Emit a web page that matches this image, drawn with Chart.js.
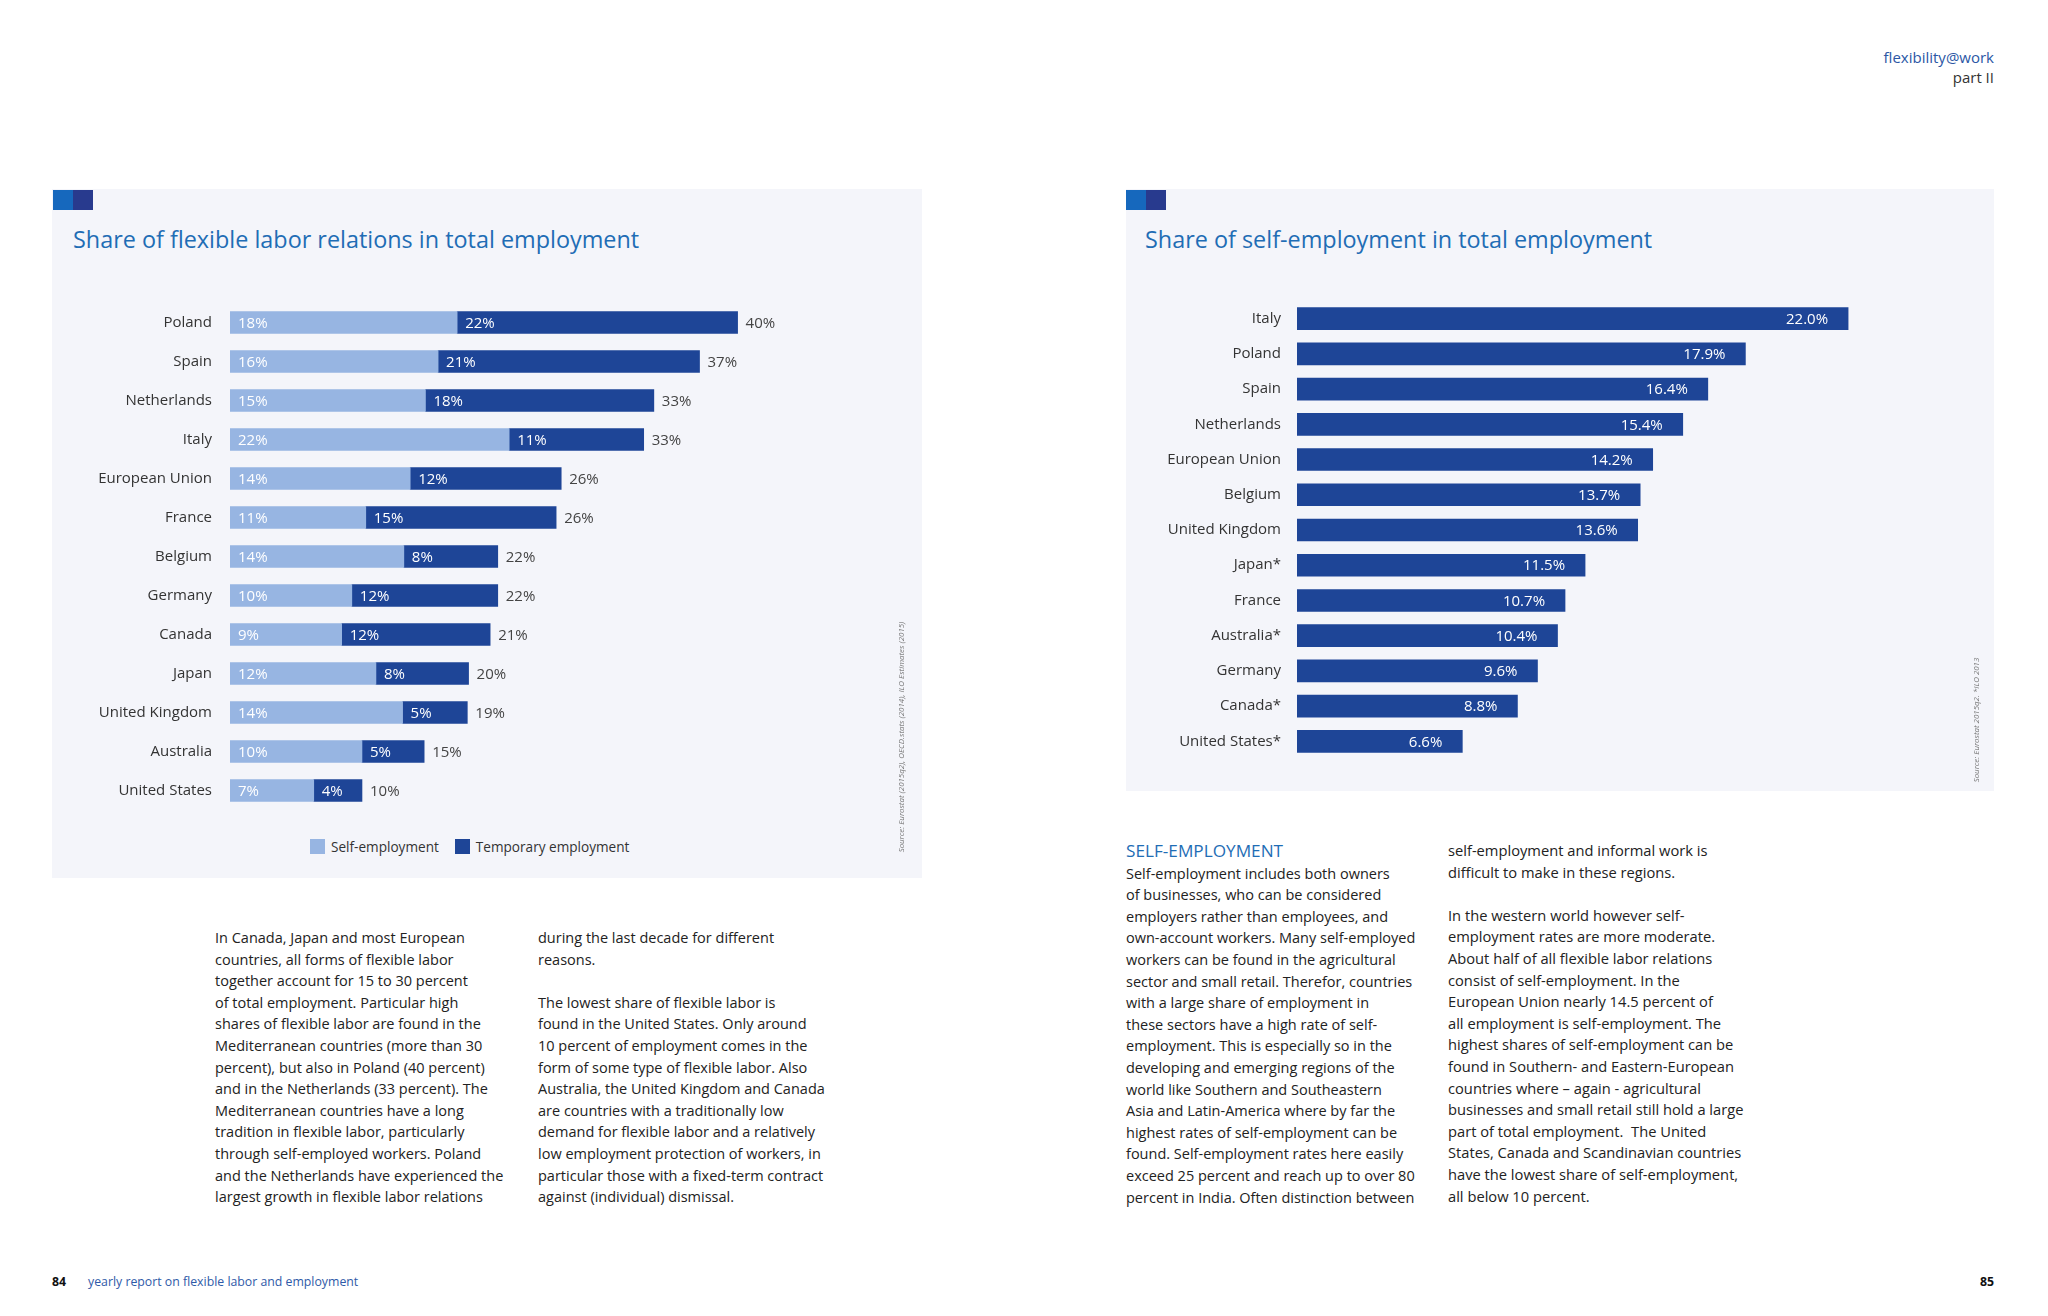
<!DOCTYPE html>
<html>
<head>
<meta charset="utf-8">
<script src="https://cdn.jsdelivr.net/npm/chart.js@4.4.1/dist/chart.umd.min.js"></script>
<style>
  html, body { margin: 0; padding: 0; background: #fff; }
  body { width: 2048px; height: 1316px; position: relative; overflow: hidden; font-family: 'Open Sans', 'Noto Sans', sans-serif; color: #222; }
  .abs { position: absolute; }
  .panel { background: #f4f5fa; }
  .sq { width: 20px; height: 20px; }
  .title { font-size: 23.4px; color: #1f6db5; white-space: nowrap; }
  .body-text { font-size: 14.5px; line-height: 21.6px; white-space: nowrap; color: #222; }
  .legend { font-size: 13.6px; color: #333; display: flex; align-items: center; white-space: nowrap; }
  .legend i { display: inline-block; width: 15px; height: 15px; margin-right: 6px; }
  .source { font-size: 7.9px; line-height: 12px; font-style: italic; color: #777; white-space: nowrap; transform-origin: center; text-align: center; }
</style>
</head>
<body>

<!-- page header -->
<div class="abs" style="right:54px; top:47px; font-size:15px; color:#2b57a5; text-align:right;">flexibility@work</div>
<div class="abs" style="right:54px; top:67px; font-size:15px; color:#333; text-align:right;">part II</div>

<!-- left panel -->
<div class="abs panel" style="left:52px; top:189px; width:870px; height:689px;"></div>
<div class="abs sq" style="left:53px; top:190px; background:#1668bd;"></div>
<div class="abs sq" style="left:73px; top:190px; background:#283a8e;"></div>
<div class="abs title" style="left:73px; top:223px;">Share of flexible labor relations in total employment</div>
<canvas id="flexChart" class="abs" width="870" height="561" style="left:52px; top:276px;"></canvas>
<div class="abs legend" style="left:310px; top:837px;">
  <i style="background:#97b5e2;"></i><span style="margin-right:16px;">Self-employment</span>
  <i style="background:#1e4597;"></i><span>Temporary employment</span>
</div>
<div class="abs source" style="left:751px; top:731px; width:300px; transform:rotate(-90deg);">Source: Eurostat (2015q2), OECD.stats (2014), ILO Estimates (2015)</div>

<!-- right panel -->
<div class="abs panel" style="left:1126px; top:189px; width:868px; height:602px;"></div>
<div class="abs sq" style="left:1126px; top:190px; background:#1668bd;"></div>
<div class="abs sq" style="left:1146px; top:190px; background:#283a8e;"></div>
<div class="abs title" style="left:1145px; top:223px;">Share of self-employment in total employment</div>
<canvas id="selfChart" class="abs" width="868" height="508" style="left:1126px; top:276px;"></canvas>
<div class="abs source" style="left:1876px; top:714px; width:200px; transform:rotate(-90deg);">Source: Eurostat 2015q2. *ILO 2013</div>

<!-- left page text -->
<div class="abs body-text" style="left:215px; top:927px;">
In Canada, Japan and most European<br>
countries, all forms of flexible labor<br>
together account for 15 to 30 percent<br>
of total employment. Particular high<br>
shares of flexible labor are found in the<br>
Mediterranean countries (more than 30<br>
percent), but also in Poland (40 percent)<br>
and in the Netherlands (33 percent). The<br>
Mediterranean countries have a long<br>
tradition in flexible labor, particularly<br>
through self-employed workers. Poland<br>
and the Netherlands have experienced the<br>
largest growth in flexible labor relations
</div>
<div class="abs body-text" style="left:538px; top:927px;">
during the last decade for different<br>
reasons.<br>
<br>
The lowest share of flexible labor is<br>
found in the United States. Only around<br>
10 percent of employment comes in the<br>
form of some type of flexible labor. Also<br>
Australia, the United Kingdom and Canada<br>
are countries with a traditionally low<br>
demand for flexible labor and a relatively<br>
low employment protection of workers, in<br>
particular those with a fixed-term contract<br>
against (individual) dismissal.
</div>

<!-- right page text -->
<div class="abs body-text" style="left:1126px; top:840px;">
<span style="color:#1f6db5; font-size:17.2px;">SELF-EMPLOYMENT</span><br>
Self-employment includes both owners<br>
of businesses, who can be considered<br>
employers rather than employees, and<br>
own-account workers. Many self-employed<br>
workers can be found in the agricultural<br>
sector and small retail. Therefor, countries<br>
with a large share of employment in<br>
these sectors have a high rate of self-<br>
employment. This is especially so in the<br>
developing and emerging regions of the<br>
world like Southern and Southeastern<br>
Asia and Latin-America where by far the<br>
highest rates of self-employment can be<br>
found. Self-employment rates here easily<br>
exceed 25 percent and reach up to over 80<br>
percent in India. Often distinction between
</div>
<div class="abs body-text" style="left:1448px; top:840px; font-size:14.7px;">
self-employment and informal work is<br>
difficult to make in these regions.<br>
<br>
In the western world however self-<br>
employment rates are more moderate.<br>
About half of all flexible labor relations<br>
consist of self-employment. In the<br>
European Union nearly 14.5 percent of<br>
all employment is self-employment. The<br>
highest shares of self-employment can be<br>
found in Southern- and Eastern-European<br>
countries where – again - agricultural<br>
businesses and small retail still hold a large<br>
part of total employment.&nbsp; The United<br>
States, Canada and Scandinavian countries<br>
have the lowest share of self-employment,<br>
all below 10 percent.
</div>

<!-- footer -->
<div class="abs" style="left:52px; top:1273px; font-size:12.3px; font-weight:bold; color:#111;">84</div>
<div class="abs" style="left:88px; top:1273px; font-size:12.3px; color:#2f5aa8;">yearly report on flexible labor and employment</div>
<div class="abs" style="right:54px; top:1273px; font-size:12.3px; font-weight:bold; color:#111;">85</div>

<script>
// left chart: flexible labor
const flexCountries = ['Poland', 'Spain', 'Netherlands', 'Italy', 'European Union', 'France', 'Belgium',
    'Germany', 'Canada', 'Japan', 'United Kingdom', 'Australia', 'United States'];
const selfShare = [17.9, 16.4, 15.4, 22.0, 14.2, 10.7, 13.7, 9.6, 8.8, 11.5, 13.6, 10.4, 6.6];
const tempShare = [22.1, 20.6, 18.0, 10.6, 11.9, 15.0, 7.4, 11.5, 11.7, 7.3, 5.1, 4.9, 3.8];
const selfLabels = ['18%', '16%', '15%', '22%', '14%', '11%', '14%', '10%', '9%', '12%', '14%', '10%', '7%'];
const tempLabels = ['22%', '21%', '18%', '11%', '12%', '15%', '8%', '12%', '12%', '8%', '5%', '5%', '4%'];
const totalLabels = ['40%', '37%', '33%', '33%', '26%', '26%', '22%', '22%', '21%', '20%', '19%', '15%', '10%'];

// right chart: self-employment
const selfCountries = ['Italy', 'Poland', 'Spain', 'Netherlands', 'European Union', 'Belgium', 'United Kingdom',
    'Japan*', 'France', 'Australia*', 'Germany', 'Canada*', 'United States*'];
const selfEmployment = [22.0, 17.9, 16.4, 15.4, 14.2, 13.7, 13.6, 11.5, 10.7, 10.4, 9.6, 8.8, 6.6];

const LIGHT = '#97b5e2';
const DARK = '#1e4597';
const FONT = "'Open Sans', 'Noto Sans', sans-serif";

// draws the % labels on the stacked bars
const flexLabels = {
    id: 'flexLabels',
    afterDatasetsDraw(chart) {
        const ctx = chart.ctx;
        ctx.save();
        ctx.font = '15px ' + FONT;
        ctx.textBaseline = 'middle';
        ctx.textAlign = 'left';
        const segLabels = [selfLabels, tempLabels];
        chart.data.datasets.forEach((ds, di) => {
            chart.getDatasetMeta(di).data.forEach((bar, i) => {
                ctx.fillStyle = '#fff';
                ctx.fillText(segLabels[di][i], bar.base + 8, bar.y + 1);
                if (di === 1) {
                    ctx.fillStyle = '#444';
                    ctx.fillText(totalLabels[i], bar.x + 8, bar.y + 1);
                }
            });
        });
        ctx.restore();
    }
};

const selfValueLabels = {
    id: 'selfValueLabels',
    afterDatasetsDraw(chart) {
        const ctx = chart.ctx;
        ctx.save();
        ctx.font = '15px ' + FONT;
        ctx.textBaseline = 'middle';
        ctx.textAlign = 'right';
        ctx.fillStyle = '#fff';
        chart.getDatasetMeta(0).data.forEach((bar, i) => {
            ctx.fillText(selfEmployment[i].toFixed(1) + '%', bar.x - 20, bar.y + 1);
        });
        ctx.restore();
    }
};

// note: the y axis adds (label height / 2 + tick padding) above and below the bars,
// so the canvases are taller than the bar area
const flexChart = new Chart(document.getElementById('flexChart').getContext('2d'), {
    type: 'bar',
    data: {
        labels: flexCountries,
        datasets: [{
            label: 'Self-employment',
            data: selfShare,
            backgroundColor: LIGHT,
            barThickness: 22
        }, {
            label: 'Temporary employment',
            data: tempShare,
            backgroundColor: DARK,
            barThickness: 22
        }]
    },
    options: {
        indexAxis: 'y',
        responsive: false,
        animation: false,
        layout: { padding: { left: 0, right: 57.5, top: 0, bottom: 0 } },
        plugins: {
            legend: { display: false },
            tooltip: { enabled: false }
        },
        scales: {
            x: { stacked: true, display: false, min: 0, max: 50 },
            y: {
                stacked: true,
                grid: { display: false, drawTicks: false },
                border: { display: false },
                ticks: { color: '#333', padding: 18, font: { family: FONT, size: 15, lineHeight: 1.2 } },
                afterFit: axis => { axis.width = 178; }
            }
        }
    },
    plugins: [flexLabels]
});

const selfChart = new Chart(document.getElementById('selfChart').getContext('2d'), {
    type: 'bar',
    data: {
        labels: selfCountries,
        datasets: [{
            label: 'Self-employment',
            data: selfEmployment,
            backgroundColor: DARK,
            barThickness: 22
        }]
    },
    options: {
        indexAxis: 'y',
        responsive: false,
        animation: false,
        layout: { padding: { left: 0, right: 70.75, top: 0, bottom: 0 } },
        plugins: {
            legend: { display: false },
            tooltip: { enabled: false }
        },
        scales: {
            x: { display: false, min: 0, max: 25 },
            y: {
                grid: { display: false, drawTicks: false },
                border: { display: false },
                ticks: { color: '#333', padding: 16, font: { family: FONT, size: 15, lineHeight: 1.2 } },
                afterFit: axis => { axis.width = 171; }
            }
        }
    },
    plugins: [selfValueLabels]
});
</script>
</body>
</html>
